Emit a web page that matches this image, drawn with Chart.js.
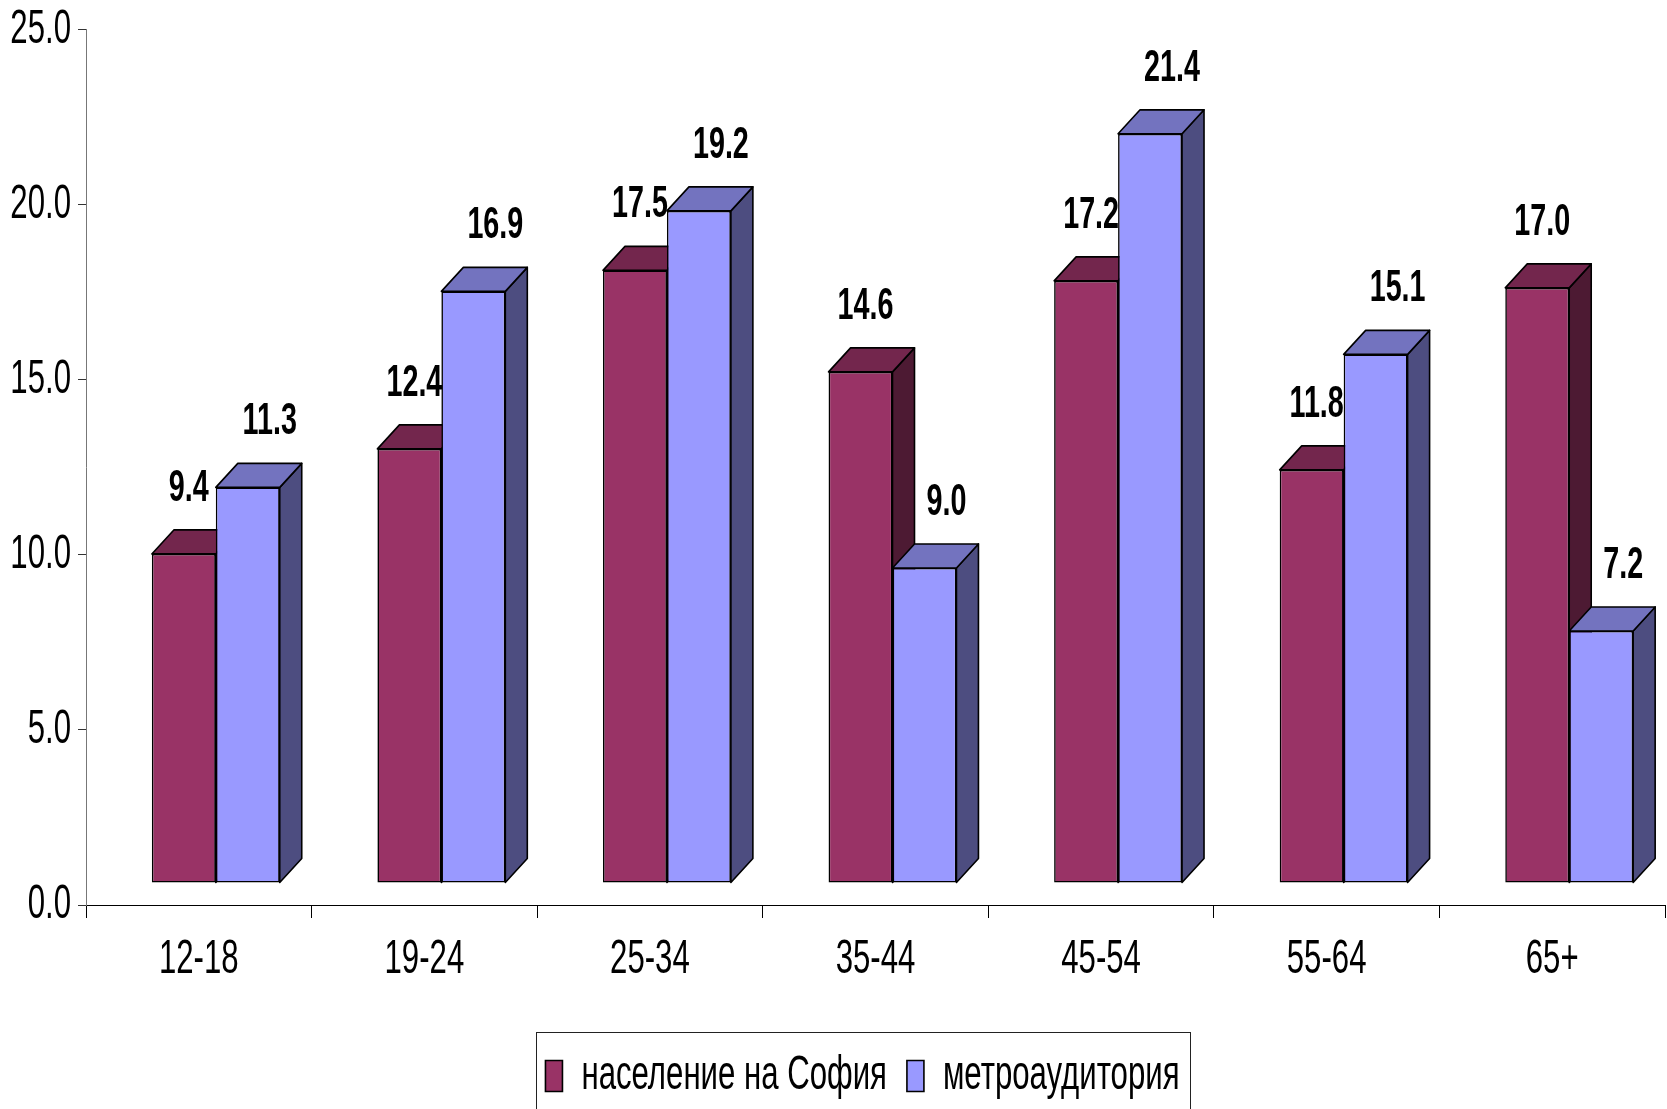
<!DOCTYPE html>
<html><head><meta charset="utf-8">
<script src="https://cdn.jsdelivr.net/npm/chart.js@4.4.0/dist/chart.umd.min.js"></script>
<style>html,body{margin:0;padding:0;background:#fff;overflow:hidden;}</style>
</head><body>
<canvas id="c" width="1667" height="1109"></canvas>
<script>
const categories = ['12-18','19-24','25-34','35-44','45-54','55-64','65+'];
const seriesNames = ['население на София','метроаудитория'];
const populationSofia = [9.4,12.4,17.5,14.6,17.2,11.8,17.0];
const metroAudience = [11.3,16.9,19.2,9.0,21.4,15.1,7.2];
const yTicks = [0,5,10,15,20,25];

const FONT = "'Liberation Sans','Arial',sans-serif";
const SHIFT_X = 17, SHIFT_Y = -22, DEPTH_X = 22, DEPTH_Y = 24;
const TEXT_SX = 0.82, TEXT_SY = 1.25;   // narrow, tall lettering
const LABEL_GAP = 29;
const LEGEND_SHIFT = 30;

const canvas = document.getElementById('c');
const ctx2d = canvas.getContext('2d');
(function patchText(ctx) {
  const origFill = ctx.fillText;
  const origMeasure = ctx.measureText;
  ctx.fillText = function (t, x, y, mw) {
    this.save();
    this.translate(x, y);
    this.scale(TEXT_SX, TEXT_SY);
    if (mw === undefined) origFill.call(this, t, 0, 0); else origFill.call(this, t, 0, 0, mw / TEXT_SX);
    this.restore();
  };
  ctx.measureText = function (t) {
    const m = origMeasure.call(this, t);
    return {
      width: m.width * TEXT_SX,
      actualBoundingBoxLeft: m.actualBoundingBoxLeft * TEXT_SX,
      actualBoundingBoxRight: m.actualBoundingBoxRight * TEXT_SX,
      actualBoundingBoxAscent: m.actualBoundingBoxAscent * TEXT_SY,
      actualBoundingBoxDescent: m.actualBoundingBoxDescent * TEXT_SY,
      fontBoundingBoxAscent: m.fontBoundingBoxAscent,
      fontBoundingBoxDescent: m.fontBoundingBoxDescent
    };
  };
})(ctx2d);

const threeD = {
  id: 'threeD',
  afterLayout(chart) {
    if (chart.legend) {
      chart.legend.left += LEGEND_SHIFT;
      chart.legend.right += LEGEND_SHIFT;
    }
  },
  beforeDatasetDraw() {
    return false; // bars are drawn below in 3D order
  },
  afterDatasetsDraw(chart) {
    const ctx = chart.ctx;
    const metas = chart.data.datasets.map((ds, i) => chart.getDatasetMeta(i));
    ctx.save();
    ctx.translate(SHIFT_X, SHIFT_Y);
    categories.forEach((c, j) => {
      metas.forEach((meta, i) => {
        const ds = chart.data.datasets[i];
        const el = meta.data[j];
        if (!el) return;
        el.draw(ctx, chart.chartArea);
        const p = el.getProps(['x', 'y', 'base', 'width'], true);
        const l = p.x - p.width / 2, r = p.x + p.width / 2;
        ctx.lineWidth = 1.6;
        ctx.strokeStyle = '#000';
        ctx.lineJoin = 'round';
        ctx.beginPath();
        ctx.moveTo(r, p.y); ctx.lineTo(r + DEPTH_X, p.y - DEPTH_Y);
        ctx.lineTo(r + DEPTH_X, p.base - DEPTH_Y); ctx.lineTo(r, p.base);
        ctx.closePath();
        ctx.fillStyle = ds.sideColor; ctx.fill(); ctx.stroke();
        ctx.beginPath();
        ctx.moveTo(l, p.y); ctx.lineTo(l + DEPTH_X, p.y - DEPTH_Y);
        ctx.lineTo(r + DEPTH_X, p.y - DEPTH_Y); ctx.lineTo(r, p.y);
        ctx.closePath();
        ctx.fillStyle = ds.topColor; ctx.fill(); ctx.stroke();
      });
    });
    ctx.restore();

    ctx.save();
    ctx.font = "bold 35px " + FONT;
    ctx.fillStyle = '#000';
    ctx.textAlign = 'center';
    ctx.textBaseline = 'alphabetic';
    metas.forEach((meta, i) => {
      const ds = chart.data.datasets[i];
      meta.data.forEach((el, j) => {
        const p = el.getProps(['x', 'y'], true);
        const v = ds.data[j];
        ctx.fillText(v.toFixed(1), p.x + SHIFT_X + ds.labelDx, p.y + SHIFT_Y - DEPTH_Y - LABEL_GAP);
      });
    });
    ctx.restore();
  },
  afterDraw(chart) {
    const hb = chart.legend && chart.legend.legendHitBoxes;
    if (!hb || !hb.length) return;
    const ctx = chart.ctx;
    const l = hb[0].left - 9;
    const last = hb[hb.length - 1];
    const r = last.left + last.width + 11;
    const t = hb[0].top - 25;
    ctx.save();
    ctx.strokeStyle = '#222';
    ctx.lineWidth = 1;
    ctx.strokeRect(Math.round(l) + 0.5, Math.round(t) + 0.5, Math.round(r - l), 300);
    ctx.restore();
  }
};

new Chart(canvas, {
  type: 'bar',
  data: {
    labels: categories,
    datasets: [
      { label: seriesNames[0], data: populationSofia, backgroundColor: '#993366', borderColor: '#000', borderWidth: 1.6,
        borderSkipped: false, sideColor: '#4D1A33', topColor: '#73264D', labelDx: 5 },
      { label: seriesNames[1], data: metroAudience, backgroundColor: '#9999FF', borderColor: '#000', borderWidth: 1.6,
        borderSkipped: false, sideColor: '#4D4D80', topColor: '#7373BF', labelDx: 22 }
    ]
  },
  options: {
    responsive: false,
    devicePixelRatio: 1,
    animation: false,
    layout: { padding: { top: 29, left: 0, right: 2, bottom: 4 } },
    datasets: { bar: { categoryPercentage: 0.567, barPercentage: 1 } },
    plugins: {
      tooltip: { enabled: false },
      legend: {
        position: 'bottom',
        labels: { font: { family: FONT, size: 38 }, color: '#000', boxWidth: 17, boxHeight: 31, padding: 20 }
      }
    },
    scales: {
      x: {
        grid: { offset: true, drawOnChartArea: false, tickLength: 13, color: '#000', lineWidth: 1 },
        border: { color: '#000', width: 1 },
        ticks: { font: { family: FONT, size: 38 }, color: '#000', padding: 19 },
        afterFit(s) { s.height = 132; }
      },
      y: {
        min: 0, max: 25,
        afterBuildTicks(s) { s.ticks = yTicks.map(v => ({ value: v })); },
        ticks: { callback: v => Number(v).toFixed(1), font: { family: FONT, size: 38 }, color: '#000', padding: 7 },
        grid: { drawOnChartArea: false, tickLength: 8, color: '#333', lineWidth: 1 },
        border: { color: '#777', width: 1 },
        afterFit(s) { s.width = 86; }
      }
    }
  },
  plugins: [threeD]
});
</script>
</body></html>
